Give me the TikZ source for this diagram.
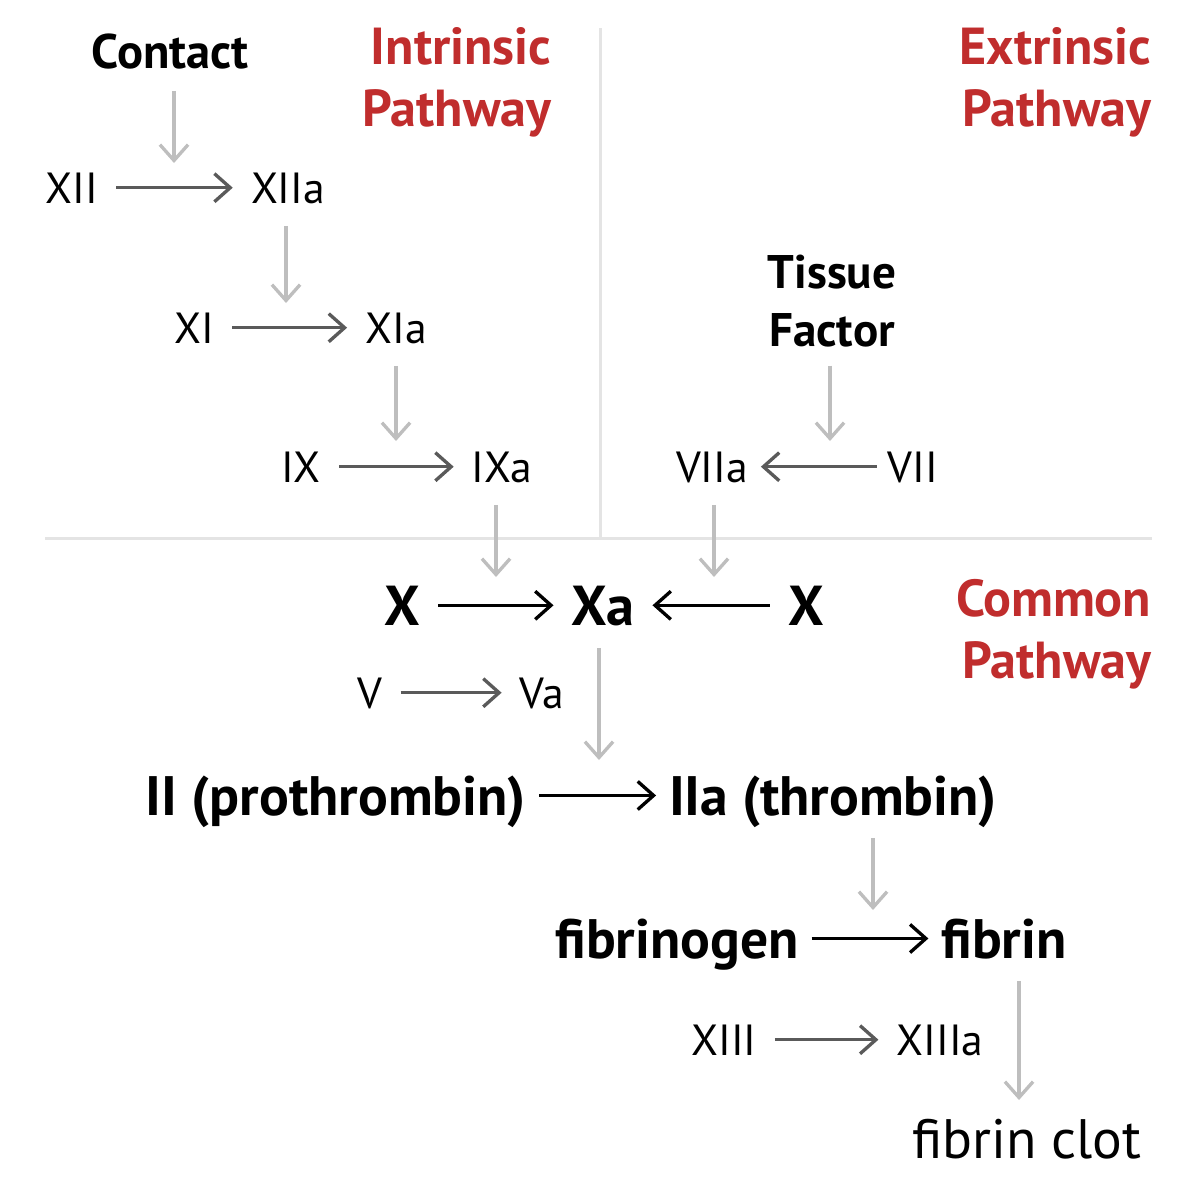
\documentclass[tikz,border=0pt]{standalone}
\usepackage{fontspec}
\setmainfont{PT Sans}
\usetikzlibrary{arrows.meta, positioning}
\definecolor{pathred}{RGB}{192,45,45}
\definecolor{convgrey}{RGB}{90,90,90}
\definecolor{feedgrey}{RGB}{190,190,190}
\definecolor{rulegrey}{RGB}{228,228,228}

\begin{document}
\begin{tikzpicture}[
    x=0.01cm, y=-0.01cm,
    fac/.style={anchor=base, inner xsep=5pt, inner ysep=5pt, text height=10pt, text depth=1.3pt, font=\fontsize{12.4}{14}\selectfont},
    key/.style={fac, text height=12.5pt, text depth=1.3pt, font=\fontsize{16}{19}\selectfont\bfseries},
    big/.style={fac, inner xsep=3.5pt, text height=12.4pt, text depth=1.3pt, font=\fontsize{15.8}{19}\selectfont\bfseries},
    title/.style={anchor=north east, inner sep=0pt, align=right, text=pathred, font=\fontsize{14.8}{17.6}\selectfont\bfseries},
    conv/.style={-{Straight Barb[length=4.5pt,width=8pt]}, line width=0.95pt, convgrey},
    main/.style={conv, black},
    feed/.style={conv, feedgrey}
]
\useasboundingbox (0,0) rectangle (1200,1200);

% dividers between the pathways
\draw[rulegrey, line width=0.85pt] (600,28) -- (600,537);
\draw[rulegrey, line width=0.85pt] (45,538) -- (1152,538);

% pathway titles
\node[title] (intr) at (552,27) {Intrinsic\\Pathway};
\node[title] (extr) at (1152,27) {Extrinsic\\Pathway};
\node[title] (comm) at (1152,579) {Common\\Pathway};

% intrinsic pathway
\node[fac, font=\fontsize{13.8}{16}\selectfont\bfseries] (contact) at (170,68) {Contact};
\node[fac] (xii) at (72,203) {XII};
\node[fac] (xiia) at (288,203) {XIIa};
\node[fac] (xi) at (194,343) {XI};
\node[fac] (xia) at (396,343) {XIa};
\node[fac] (ix) at (301,482) {IX};
\node[fac] (ixa) at (502,482) {IXa};

% extrinsic pathway
\node[anchor=south, inner sep=0pt, align=center, font=\fontsize{13.4}{16.5}\selectfont\bfseries] (tf) at (832,348) {Tissue\\Factor};
\node[fac, inner xsep=3.5pt] (viia) at (712,482) {VIIa};
\node[fac, inner xsep=3pt] (vii) at (913,482) {VII};

% common pathway
\node[key] (xl) at (402,625) {X};
\node[key] (xa) at (603,625) {Xa};
\node[key] (xr) at (806,625) {X};
\node[fac] (v) at (370,708) {V};
\node[fac] (va) at (542,708) {Va};
\node[big] (ii) at (336,815) {II (prothrombin)};
\node[big] (iia) at (833,815) {IIa (thrombin)};
\node[big] (fgen) at (677,958) {fibrinogen};
\node[big] (fib) at (1004,958) {fibrin};
\node[fac] (xiii) at (724,1055) {XIII};
\node[fac] (xiiia) at (940,1055) {XIIIa};
\node[fac, font=\fontsize{15.8}{18}\selectfont] (clot) at (1027,1158) {fibrin clot};

% ends of the feeding arrows
\coordinate (f1) at (174,163);
\coordinate (f2) at (286,303);
\coordinate (f3) at (396,441);
\coordinate (f4) at (830,441);
\coordinate (f5) at (496,577);
\coordinate (f6) at (714,577);
\coordinate (f7) at (599,760);
\coordinate (f8) at (873,910);
\coordinate (f9) at (1019,1100);

% conversions
\draw[conv] (xii) -- (xiia);
\draw[conv] (xi) -- (xia);
\draw[conv] (ix) -- (ixa);
\draw[conv] (vii) -- (viia);
\draw[conv] (v) -- (va);
\draw[conv] (xiii) -- (xiiia);
\draw[main] (xl) -- (xa);
\draw[main] (xr) -- (xa);
\draw[main] (ii) -- (iia);
\draw[main] (fgen) -- (fib);

% feeding arrows
\draw[feed] (contact.south -| f1) -- (f1);
\draw[feed] (xiia.south -| f2) -- (f2);
\draw[feed] (xia.south -| f3) -- (f3);
\draw[feed, shorten <=5pt] (tf.south -| f4) -- (f4);
\draw[feed] (ixa.south -| f5) -- (f5);
\draw[feed] (viia.south -| f6) -- (f6);
\draw[feed] (xa.south -| f7) -- (f7);
\draw[feed] (iia.south -| f8) -- (f8);
\draw[feed] (fib.south -| f9) -- (f9);

\end{tikzpicture}
\end{document}
